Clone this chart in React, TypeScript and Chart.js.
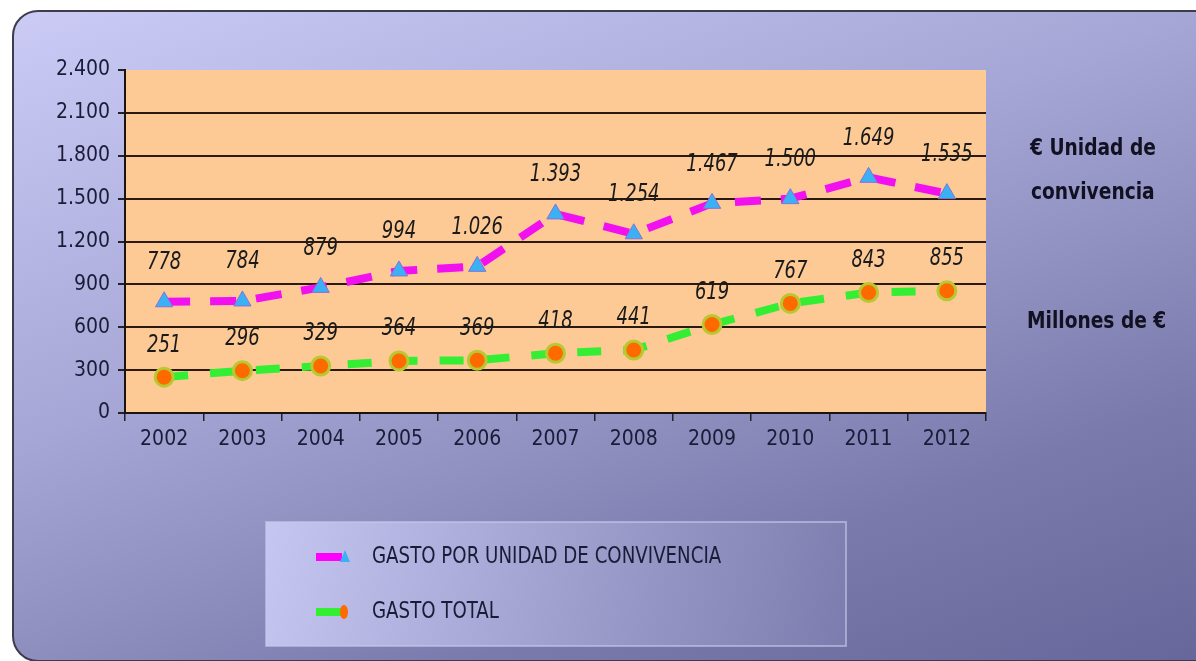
import React, { useEffect, useRef } from "react";
import { Chart, registerables } from "chart.js";

Chart.register(...registerables);

const years = ["2002", "2003", "2004", "2005", "2006", "2007", "2008", "2009", "2010", "2011", "2012"];
const gastoUnidad = [778, 784, 879, 994, 1026, 1393, 1254, 1467, 1500, 1649, 1535];
const gastoTotal = [251, 296, 329, 364, 369, 418, 441, 619, 767, 843, 855];
const seriesNames = ["GASTO POR UNIDAD DE CONVIVENCIA", "GASTO TOTAL"];
const yMin = 0;
const yMax = 2400;
const yStep = 300;

const FONT = "'Liberation Sans Narrow', 'DejaVu Sans Condensed', 'Arial Narrow', sans-serif";
const TEXT = "#1b1b38";

const fmt = (v: number) => {
  const s = String(Math.round(v));
  return s.replace(/\B(?=(\d{3})+(?!\d))/g, ".");
};

const drawNarrow = (ctx: any, text: string, x: number, y: number, sx: number, align: string) => {
  ctx.save();
  ctx.translate(x, y);
  ctx.scale(sx, 1);
  ctx.textAlign = align;
  ctx.fillText(text, 0, 0);
  ctx.restore();
};

const plotBg = {
  id: "plotBg",
  beforeDraw(chart: any) {
    const { ctx, chartArea: a } = chart;
    ctx.save();
    ctx.fillStyle = "#fdca96";
    ctx.fillRect(a.left, a.top, a.right - a.left, a.bottom - a.top);
    ctx.restore();
  },
};

const dataLabels = {
  id: "dataLabels",
  afterDatasetsDraw(chart: any) {
    const { ctx } = chart;
    ctx.save();
    ctx.font = `italic 25px ${FONT}`;
    ctx.fillStyle = "#1a1a1a";
    ctx.textBaseline = "middle";
    chart.data.datasets.forEach((ds: any, i: number) => {
      const meta = chart.getDatasetMeta(i);
      const off = i === 0 ? 39 : 32;
      meta.data.forEach((pt: any, j: number) => {
        drawNarrow(ctx, fmt(ds.data[j]), pt.x, pt.y - off, 0.8, "center");
      });
    });
    ctx.restore();
  },
};

const customLegend = {
  id: "customLegend",
  afterDraw(chart: any) {
    const { ctx } = chart;
    ctx.save();
    const x = 266, y = 522, w = 580, h = 124;
    const g = ctx.createLinearGradient(x, y, x + w, y + h);
    g.addColorStop(0, "#c6c6f2");
    g.addColorStop(1, "#7c7cae");
    ctx.fillStyle = g;
    ctx.fillRect(x, y, w, h);
    ctx.strokeStyle = "rgba(200,200,235,0.6)";
    ctx.lineWidth = 2;
    ctx.strokeRect(x, y, w, h);
    const rows = [557, 612];
    const lineCols = ["#ff00ff", "#33ee33"];
    rows.forEach((ry, i) => {
      ctx.strokeStyle = lineCols[i];
      ctx.lineWidth = 8;
      ctx.beginPath();
      ctx.moveTo(316, ry);
      ctx.lineTo(342, ry);
      ctx.stroke();
      if (i === 0) {
        ctx.fillStyle = "#3ab0f5";
        ctx.beginPath();
        ctx.moveTo(345, ry - 7);
        ctx.lineTo(350, ry + 5);
        ctx.lineTo(340, ry + 5);
        ctx.closePath();
        ctx.fill();
      } else {
        ctx.fillStyle = "#ff6a00";
        ctx.beginPath();
        ctx.ellipse(344, ry, 4, 7, 0, 0, Math.PI * 2);
        ctx.fill();
      }
      ctx.fillStyle = TEXT;
      ctx.font = `23px ${FONT}`;
      ctx.textBaseline = "middle";
      drawNarrow(ctx, seriesNames[i], 372, ry, 0.88, "left");
    });
    // right side annotations
    ctx.font = `bold 23px ${FONT}`;
    ctx.fillStyle = "#111122";
    ctx.textBaseline = "middle";
    drawNarrow(ctx, "€ Unidad de", 1030, 149, 0.9, "left");
    drawNarrow(ctx, "convivencia", 1031, 193, 0.9, "left");
    drawNarrow(ctx, "Millones de €", 1027, 322, 0.9, "left");
    ctx.restore();
  },
};

export default function App() {
  const ref = useRef<HTMLCanvasElement | null>(null);

  useEffect(() => {
    document.body.style.margin = "0";
    if (!ref.current) return;
    const chart = new Chart(ref.current, {
      type: "line",
      data: {
        labels: years,
        datasets: [
          {
            label: seriesNames[0],
            data: gastoUnidad,
            borderColor: "#f010f0",
            borderWidth: 8,
            borderDash: [26, 20],
            pointStyle: "triangle",
            pointRadius: 10,
            pointBackgroundColor: "#3ab0f5",
            pointBorderColor: "#8a70d8",
            pointBorderWidth: 1,
            tension: 0,
          },
          {
            label: seriesNames[1],
            data: gastoTotal,
            borderColor: "#33ee33",
            borderWidth: 8,
            borderDash: [24, 22],
            pointStyle: "circle",
            pointRadius: 9,
            pointBackgroundColor: "#ff6a00",
            pointBorderColor: "#b8c830",
            pointBorderWidth: 3,
            tension: 0,
          },
        ],
      },
      options: {
        responsive: false,
        animation: false,
        layout: { padding: { left: 0, top: 70, right: 210, bottom: 198 } },
        plugins: {
          legend: { display: false },
          tooltip: { enabled: false },
        },
        scales: {
          x: {
            offset: true,
            grid: {
              display: true,
              drawOnChartArea: false,
              drawTicks: true,
              tickLength: 8,
              offset: true,
              color: "#222",
              lineWidth: 1.5,
            },
            border: { display: true, color: "#1a1410", width: 2 },
            ticks: {
              color: TEXT,
              font: { family: FONT, size: 21 },
              padding: 6,
              maxRotation: 0,
            },
            afterFit(scale: any) {
              scale.height = 50;
            },
          },
          y: {
            min: yMin,
            max: yMax,
            grid: {
              color: (c: any) => (c.tick && c.tick.value === yMax ? "rgba(0,0,0,0)" : "#2a1a12"),
              lineWidth: 2,
              tickLength: 7,
              tickColor: "#222",
            },
            border: { display: true, color: "#1a1410", width: 2 },
            ticks: {
              stepSize: yStep,
              color: TEXT,
              font: { family: FONT, size: 21 },
              padding: 8,
              callback: (v: any) => fmt(Number(v)),
            },
            afterFit(scale: any) {
              scale.width = 125;
            },
          },
        },
      },
      plugins: [plotBg, dataLabels, customLegend],
    });
    return () => chart.destroy();
  }, []);

  return (
    <div style={{ position: "relative", width: 1196, height: 661, background: "#fff", overflow: "hidden" }}>
      <div
        style={{
          position: "absolute",
          left: 12,
          top: 10,
          width: 1210,
          height: 648,
          borderRadius: 26,
          border: "2px solid #3c3c4c",
          background: "linear-gradient(160deg, #cbcbf6 0%, #a6a6d6 40%, #7a7aac 75%, #66669a 100%)",
        }}
      />
      <canvas ref={ref} width={1196} height={661} style={{ position: "absolute", left: 0, top: 0 }} />
    </div>
  );
}
